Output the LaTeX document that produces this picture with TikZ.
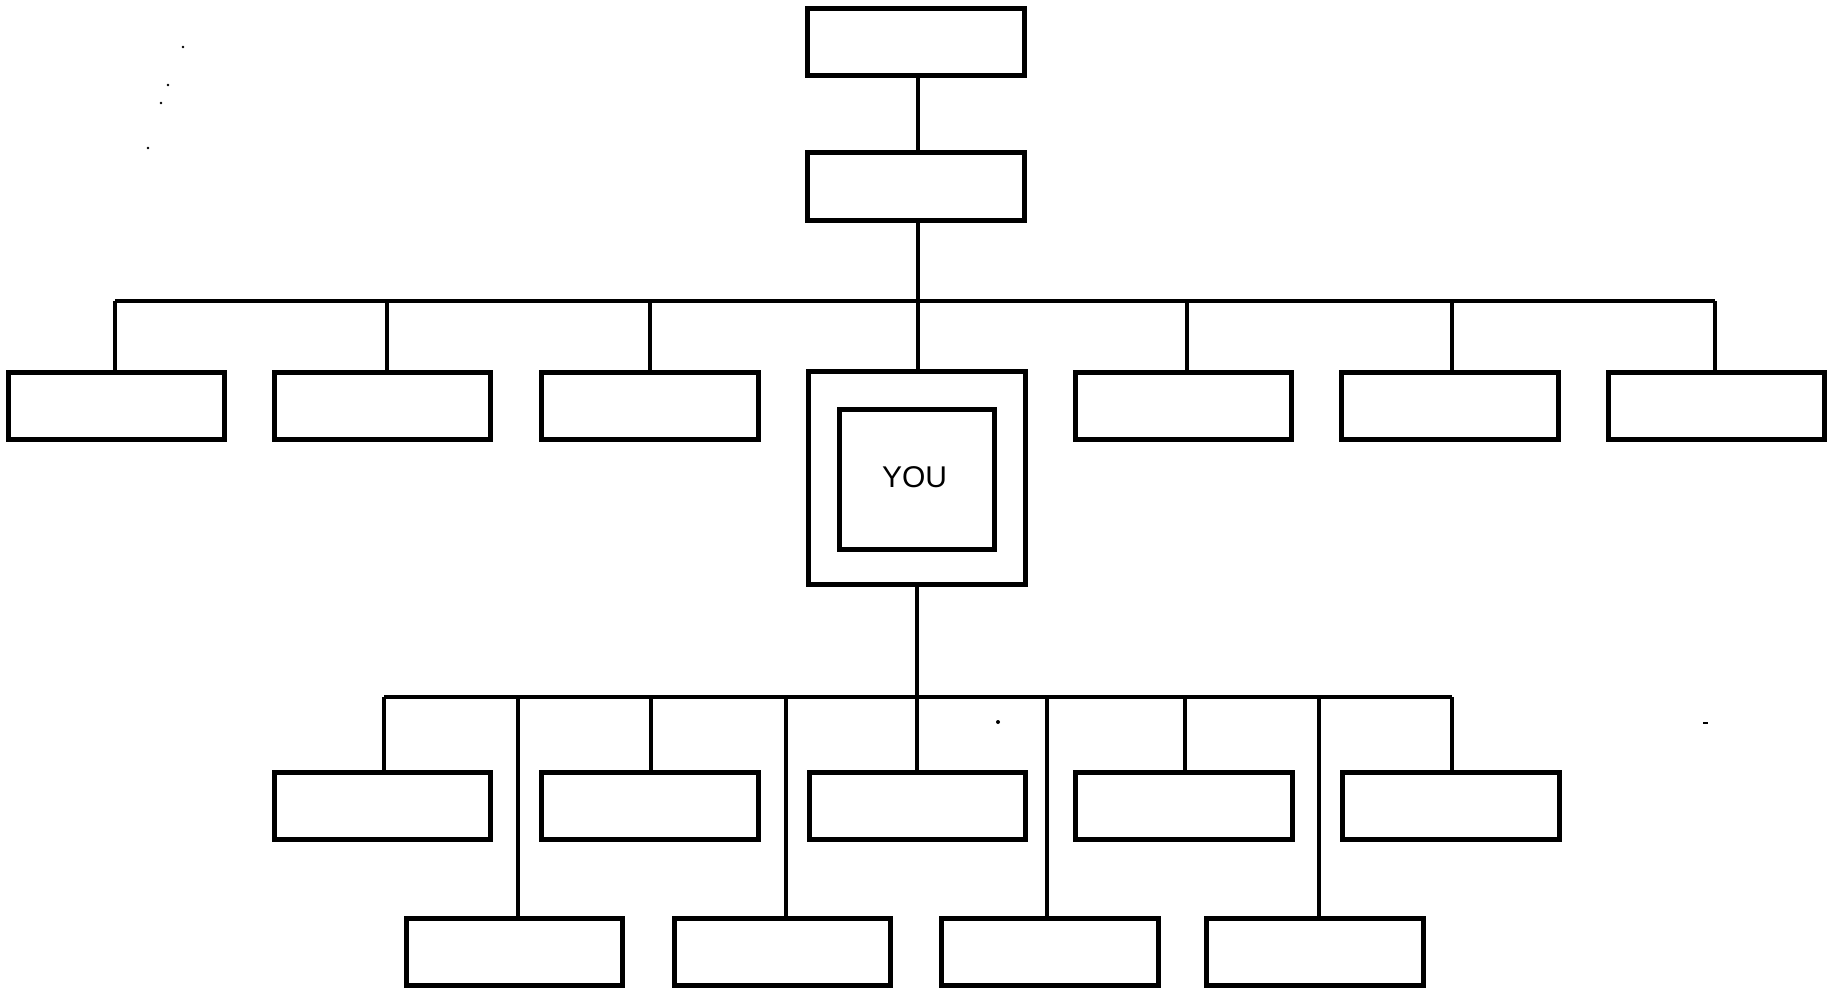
\documentclass[tikz,border=0pt]{standalone}
\usepackage{fontspec}
\setmainfont{Liberation Sans}
\begin{document}
\begin{tikzpicture}[x=1pt,y=-1pt,
  box/.style={draw=black,line width=4.6pt,fill=white,inner sep=0pt,minimum width=216.5pt,minimum height=67.5pt},
  conn/.style={draw=black,line width=4.2pt},
  speck/.style={fill=black,draw=none}]
\useasboundingbox (0,0) rectangle (1829,991);
% top chain
\node[box] (top) at (916,42) {};
\node[box] (mid) at (916,186.5) {};
% row 1
\node[box] (r1) at (116.5,406) {};
\node[box] (r2) at (382.5,406) {};
\node[box] (r3) at (650,406) {};
\node[box,minimum width=217.5pt,minimum height=213.5pt] (you) at (917,478) {};
\node[draw=black,line width=4.6pt,inner sep=0pt,minimum width=155.5pt,minimum height=140.5pt] (youin) at (917,479.5) {};
\node[font=\fontsize{30}{30}\selectfont] (youtxt) at (914.5,477.5) {YOU};
\node[box] (r5) at (1183.5,406) {};
\node[box] (r6) at (1450,406) {};
\node[box] (r7) at (1716.5,406) {};
% row A
\node[box] (a1) at (382.5,806) {};
\node[box] (a2) at (650,806) {};
\node[box] (a3) at (917.5,806) {};
\node[box] (a4) at (1184,806) {};
\node[box] (a5) at (1451,806) {};
% row B
\node[box] (b1) at (514.5,952) {};
\node[box] (b2) at (782.5,952) {};
\node[box] (b3) at (1050,952) {};
\node[box] (b4) at (1315,952) {};
% bus coordinates
\coordinate (bus1) at (0,301);
\coordinate (bus2) at (0,697);
% connectors
\draw[conn] (top.south -| 918,0) -- (mid.north -| 918,0);
\draw[conn] (mid.south -| 918,0) -- (you.north -| 918,0);
\draw[conn] (115,301) -- (1715,301);
\draw[conn] (r1.north -| 115,0) -- (115,301);
\draw[conn] (r2.north -| 387,0) -- (387,301);
\draw[conn] (r3.north) -- (r3.north |- bus1);
\draw[conn] (r5.north -| 1187,0) -- (1187,301);
\draw[conn] (r6.north -| 1452,0) -- (1452,301);
\draw[conn] (r7.north -| 1715,0) -- (1715,301);
\draw[conn] (you.south) -- (you.south |- bus2);
\draw[conn] (384,697) -- (1452,697);
\draw[conn] (a1.north -| 384,0) -- (384,697);
\draw[conn] (a2.north -| 651,0) -- (651,697);
\draw[conn] (a3.north -| 917,0) -- (917,697);
\draw[conn] (a4.north -| 1185,0) -- (1185,697);
\draw[conn] (a5.north -| 1452,0) -- (1452,697);
\draw[conn] (b1.north -| 518,0) -- (518,697);
\draw[conn] (b2.north -| 786,0) -- (786,697);
\draw[conn] (b3.north -| 1047,0) -- (1047,697);
\draw[conn] (b4.north -| 1319,0) -- (1319,697);
% scan specks
\fill[speck] (183,47) circle (1.3);
\fill[speck] (168,85) circle (1.3);
\fill[speck] (161,103) circle (1.3);
\fill[speck] (148,148) circle (1.3);
\fill[speck] (998,722) circle (2);
\fill[speck] (1703,722) rectangle (1708,724);
\end{tikzpicture}
\end{document}
